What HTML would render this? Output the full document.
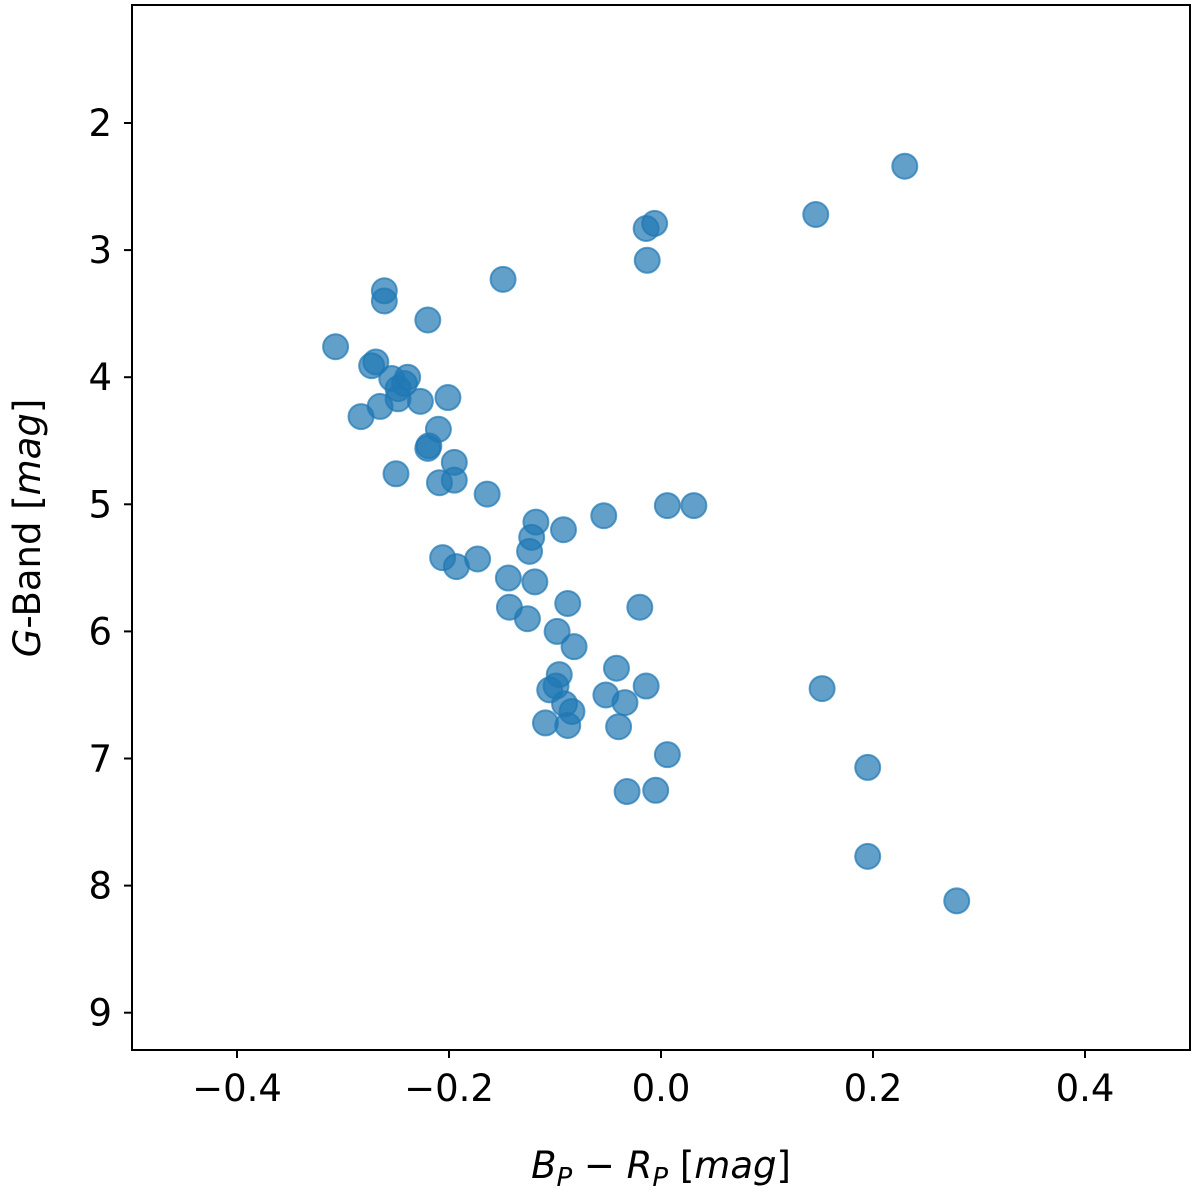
<!DOCTYPE html>
<html><head><meta charset="utf-8"><style>
body{margin:0;background:#fff}
svg text{font-family:"DejaVu Sans","Liberation Sans",sans-serif;fill:#000}
</style></head><body>
<svg id="chart" width="1200" height="1199" xmlns="http://www.w3.org/2000/svg">
<g id="pts"></g>
<rect x="132" y="5" width="1058" height="1045" fill="none" stroke="#000" stroke-width="2"/>
<g id="ax"></g>
<text x="661" y="1178" font-size="37" text-anchor="middle"><tspan font-style="italic">B</tspan><tspan font-style="italic" font-size="26" dy="8">P</tspan><tspan dy="-8"> − </tspan><tspan font-style="italic">R</tspan><tspan font-style="italic" font-size="26" dy="8">P</tspan><tspan dy="-8"> [</tspan><tspan font-style="italic">mag</tspan><tspan>]</tspan></text>
<text transform="translate(40,528) rotate(-90)" font-size="37" text-anchor="middle"><tspan font-style="italic">G</tspan>-Band [<tspan font-style="italic">mag</tspan>]</text>
</svg>
<script>
const bpRp=[0.230,0.146,-0.014,-0.006,-0.013,-0.149,-0.261,-0.261,-0.220,-0.307,-0.269,-0.273,-0.254,-0.239,-0.242,-0.248,-0.265,-0.283,-0.248,-0.227,-0.201,-0.210,-0.219,-0.220,-0.250,-0.195,-0.209,-0.195,-0.164,-0.118,-0.092,-0.122,-0.124,-0.054,0.006,0.031,-0.206,-0.193,-0.173,-0.144,-0.119,-0.143,-0.126,-0.088,-0.020,-0.098,-0.082,-0.042,-0.096,-0.099,-0.105,-0.091,-0.084,-0.052,-0.034,-0.014,0.152,-0.109,-0.088,-0.040,0.006,0.195,-0.032,-0.005,0.195,0.279];
const gMag=[2.34,2.72,2.83,2.79,3.08,3.23,3.32,3.40,3.55,3.76,3.88,3.91,4.01,4.00,4.05,4.09,4.23,4.31,4.17,4.19,4.16,4.41,4.54,4.56,4.76,4.67,4.83,4.81,4.92,5.14,5.20,5.26,5.37,5.09,5.01,5.01,5.42,5.49,5.43,5.58,5.61,5.81,5.90,5.78,5.81,6.00,6.12,6.29,6.34,6.43,6.46,6.57,6.63,6.50,6.56,6.43,6.45,6.72,6.74,6.75,6.97,7.07,7.26,7.25,7.77,8.12];
const xTicks=[-0.4,-0.2,0.0,0.2,0.4];
const xTickLabels=["−0.4","−0.2","0.0","0.2","0.4"];
const yTicks=[2,3,4,5,6,7,8,9];
const NS="http://www.w3.org/2000/svg";
const sx=v=>661+v*1060;
const sy=v=>123+(v-2)*127.1;
const pts=document.getElementById('pts'),ax=document.getElementById('ax');
function mk(t,a,p){const e=document.createElementNS(NS,t);for(const k in a)e.setAttribute(k,a[k]);p.appendChild(e);return e;}
bpRp.forEach((x,i)=>{
 const c=mk('circle',{cx:sx(x),cy:sy(gMag[i]),r:12.5,fill:'#1f77b4','fill-opacity':0.7,stroke:'#1f77b4','stroke-opacity':0.7,'stroke-width':2},pts);
 
 
});
xTicks.forEach((v,i)=>{
 const l=mk('line',{x1:sx(v),x2:sx(v),y1:1050,y2:1058,stroke:'#000','stroke-width':2},ax);
 
 
 const t=mk('text',{x:sx(v),y:1101,'font-size':37,'text-anchor':'middle'},ax);
 t.textContent=xTickLabels[i];
 
 
});
yTicks.forEach(v=>{
 const l=mk('line',{x1:124,x2:132,y1:sy(v),y2:sy(v),stroke:'#000','stroke-width':2},ax);
 
 
 const t=mk('text',{x:112,y:sy(v)+13,'font-size':37,'text-anchor':'end'},ax);
 t.textContent=String(v);
 
 
});
</script>
</body></html>
